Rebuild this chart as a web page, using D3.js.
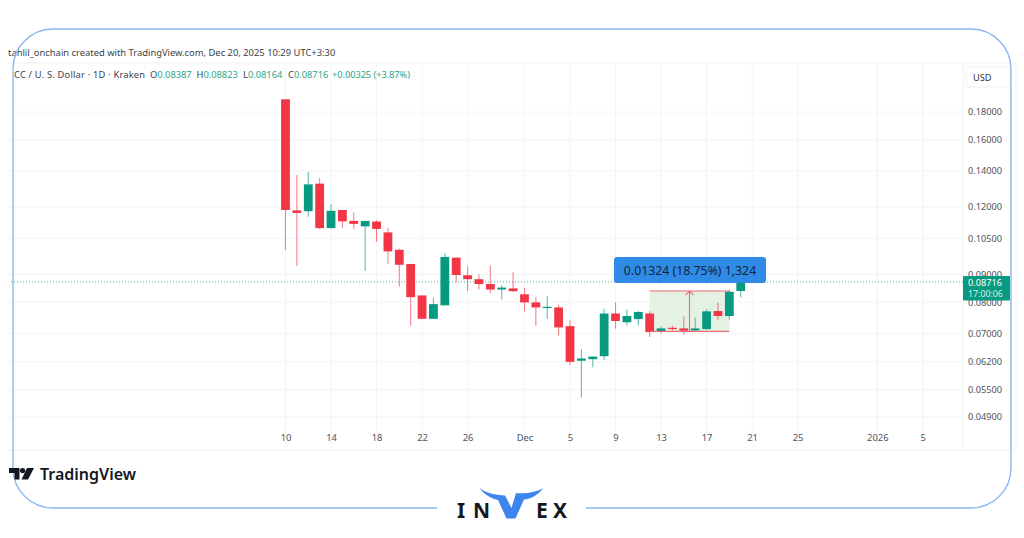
<!DOCTYPE html>
<html><head><meta charset="utf-8">
<script src="https://cdn.jsdelivr.net/npm/d3@7/dist/d3.min.js"></script>
<style>
html,body{margin:0;padding:0;background:#fff;width:1024px;height:538px;overflow:hidden}
svg{display:block}
text{font-family:"Noto Sans",sans-serif}
</style></head><body>
<svg id="c" width="1024" height="538"></svg>
<script>
const firstDay = "2025-11-10";
const opens  = [.1900,.1183,.1179,.1326,.1097,.1185,.1131,.1105,.1128,.1077,.1000,.0941,.0823,.0745,.0789,.0967,.0897,.0882,.0864,.0844,.0848,.0827,.0799,.0780,.0782,.0722,.0623,.0627,.0635,.0762,.0734,.0744,.0762,.0705,.0717,.0715,.0709,.0713,.0770,.0754,.08387];
const closes = [.1185,.1170,.1322,.1097,.1181,.1129,.1117,.1131,.1093,.0993,.0938,.0817,.0745,.0793,.0970,.0898,.0882,.0864,.0844,.0851,.0838,.0799,.0782,.0784,.0718,.0620,.0629,.0634,.0762,.0738,.0754,.0767,.0704,.0715,.0713,.0708,.0715,.0769,.0754,.0836,.08716];
const highs  = [.1900,.1376,.1393,.1360,.1216,.1185,.1172,.1131,.1134,.1099,.1004,.0941,.0823,.0815,.0985,.0968,.0932,.0900,.0934,.0860,.0909,.0851,.0818,.0821,.0790,.0740,.0655,.0634,.0778,.0799,.0775,.0771,.0769,.0722,.0723,.0752,.0749,.0776,.0799,.0843,.08823];
const lows   = [.0999,.0934,.1151,.1092,.1095,.1097,.1094,.0913,.1035,.0942,.0854,.0723,.0745,.0745,.0789,.0870,.0839,.0844,.0832,.0809,.0836,.0769,.0723,.0744,.0694,.0612,.0532,.0606,.0625,.0714,.0724,.0723,.0689,.0700,.0708,.0696,.0704,.0710,.0742,.0743,.08164];
const priceTicks = [0.18,0.16,0.14,0.12,0.105,0.09,0.08,0.07,0.062,0.055,0.049];
const dateTicks = ["2025-11-10","2025-11-14","2025-11-18","2025-11-22","2025-11-26","2025-12-01","2025-12-05","2025-12-09","2025-12-13","2025-12-17","2025-12-21","2025-12-25","2026-01-01","2026-01-05"];
const dateLabels = ["10","14","18","22","26","Dec","5","9","13","17","21","25","2026","5"];
const lastPrice = 0.08716;
const measureStart = "2025-12-12", measureEnd = "2025-12-19";
const measureLow = 0.07061, measureHigh = 0.08385;
const measureLabel = "0.01324 (18.75%) 1,324";
const creditLine = "tahlil_onchain created with TradingView.com, Dec 20, 2025 10:29 UTC+3:30";
const legendName = "CC / U. S. Dollar · 1D · Kraken";
const legendOHLC = [["O","0.08387"],["H","0.08823"],["L","0.08164"],["C","0.08716"]];
const legendChange = "+0.00325 (+3.87%)";

const RED="#F23645", GREEN="#089981", GRID="#f3f4f6", TXT="#4f535e";
const svg=d3.select("#c");
const parse=d3.utcParse("%Y-%m-%d");
const x=d3.scaleUtc().domain([parse("2025-11-10"),parse("2026-01-05")]).range([285.5,922.8]);
const y=d3.scaleLog().domain([0.18,0.049]).range([112,417]);
const plot={l:8,r:963,t:63,b:450};
const days=opens.map((_,i)=>d3.utcDay.offset(parse(firstDay),i));

svg.append("g").selectAll("line").data(priceTicks).join("line")
 .attr("x1",plot.l).attr("x2",plot.r).attr("y1",d=>y(d)).attr("y2",d=>y(d)).attr("stroke",GRID);
svg.append("g").selectAll("line").data(dateTicks).join("line")
 .attr("x1",d=>x(parse(d))).attr("x2",d=>x(parse(d))).attr("y1",plot.t).attr("y2",plot.b).attr("stroke",GRID);
svg.append("path").attr("d",`M${plot.l} ${plot.t}H${plot.r}V${plot.b}H${plot.l}`).attr("fill","none").attr("stroke","#eef0f3");
svg.append("path").attr("d",`M${plot.r} ${plot.t}H1016V${plot.b}H${plot.r}`).attr("fill","none").attr("stroke","#f2f3f5");

const mx0=x(parse(measureStart)), mx1=x(parse(measureEnd));
svg.append("rect").attr("x",mx0).attr("width",mx1-mx0).attr("y",y(measureHigh)).attr("height",y(measureLow)-y(measureHigh)).attr("fill","#e4f1e3");

svg.append("line").attr("x1",plot.l+3).attr("x2",plot.r).attr("y1",y(lastPrice)).attr("y2",y(lastPrice))
 .attr("stroke",GREEN).attr("stroke-width",1).attr("stroke-dasharray","1 2").attr("opacity",.75);

const col=i=>closes[i]>=opens[i]?GREEN:RED;
const cg=svg.append("g");
cg.selectAll("line").data(days).join("line")
 .attr("x1",d=>x(d)).attr("x2",d=>x(d))
 .attr("y1",(d,i)=>y(highs[i])).attr("y2",(d,i)=>y(lows[i]))
 .attr("stroke",(d,i)=>col(i)).attr("stroke-width",1.1).attr("opacity",.62);
cg.selectAll("rect").data(days).join("rect")
 .attr("x",d=>x(d)-4.4).attr("width",8.8)
 .attr("y",(d,i)=>y(Math.max(opens[i],closes[i])))
 .attr("height",(d,i)=>Math.max(1.2,y(Math.min(opens[i],closes[i]))-y(Math.max(opens[i],closes[i]))))
 .attr("fill",(d,i)=>col(i));

const mc="#ee6a75";
const mm=(mx0+mx1)/2;
[measureHigh,measureLow].forEach(v=>svg.append("line").attr("x1",mx0).attr("x2",mx1).attr("y1",y(v)).attr("y2",y(v)).attr("stroke",mc).attr("stroke-width",1.1));
svg.append("line").attr("x1",mm).attr("x2",mm).attr("y1",y(measureHigh)).attr("y2",y(measureLow)).attr("stroke",mc).attr("stroke-width",1.1);
svg.append("path").attr("d",`M${mm-4} ${y(measureHigh)+4}L${mm} ${y(measureHigh)}L${mm+4} ${y(measureHigh)+4}`).attr("fill","none").attr("stroke",mc).attr("stroke-width",1.1);
svg.append("rect").attr("x",614).attr("y",257).attr("width",152).attr("height",26).attr("rx",3).attr("fill","#2f8be6");
svg.append("text").attr("x",690).attr("y",274.5).attr("text-anchor","middle").attr("font-size",12.3).attr("fill","#12233a").text(measureLabel);

const ax=d3.axisBottom(x).tickValues(dateTicks.map(parse)).tickSize(0).tickPadding(0).tickFormat((d,i)=>dateLabels[i]);
const gx=svg.append("g").attr("transform","translate(0,434)").call(ax);
gx.select(".domain").remove();
gx.selectAll("text").attr("font-size",9.4).attr("fill",TXT).attr("font-family",'"Noto Sans",sans-serif');
const ay=d3.axisRight(y).tickValues(priceTicks).tickSize(0).tickPadding(0).tickFormat(d3.format(".5f"));
const gy=svg.append("g").attr("transform","translate(968,0)").call(ay);
gy.select(".domain").remove();
gy.selectAll("text").attr("font-size",9.2).attr("fill",TXT).attr("font-family",'"Noto Sans",sans-serif');

svg.append("rect").attr("x",963).attr("y",276).attr("width",47).attr("height",24.5).attr("rx",1).attr("fill",GREEN);
svg.append("text").attr("x",968).attr("y",286).attr("font-size",9.2).attr("fill","#fff").text(d3.format(".5f")(lastPrice));
svg.append("text").attr("x",968).attr("y",297).attr("font-size",8.8).attr("fill","#d8f0ea").text("17:00:06");

svg.append("rect").attr("x",966).attr("y",67).attr("width",44).attr("height",20).attr("rx",3).attr("fill","#fff").attr("stroke","#eef0f3");
svg.append("text").attr("x",973).attr("y",80.5).attr("font-size",9.2).attr("fill","#333").text("USD");

svg.append("text").attr("x",8).attr("y",56.2).attr("font-size",9.38).attr("fill","#3b3f49").text(creditLine);
const lg=svg.append("g").attr("font-size",9.3).attr("fill","#3b3f49");
lg.append("text").attr("x",14).attr("y",77.5).attr("textLength",131).text(legendName);
const legendX=[150,196.5,243,288];
legendOHLC.forEach(([k,v],i)=>{
  const t=lg.append("text").attr("x",legendX[i]).attr("y",77.5).text(k);
  t.append("tspan").attr("fill","#2aa58d").text(v);
});
lg.append("text").attr("x",332).attr("y",77.5).attr("fill","#2aa58d").attr("textLength",78).text(legendChange);

const fc="#8db8ee";
svg.append("path").attr("d","M437 508H53A40 40 0 0 1 13 468V69A40 40 0 0 1 53 29H971A40 40 0 0 1 1011 69V468A40 40 0 0 1 971 508H586")
 .attr("fill","none").attr("stroke",fc).attr("stroke-width",1.4);

const tv=svg.append("g").attr("fill","#131722");
tv.append("path").attr("d","M9 468H19.5V479.5H14.5V473H9Z");
tv.append("circle").attr("cx",22.6).attr("cy",470.6).attr("r",2.6);
tv.append("path").attr("d","M27 468H34L28 479.5H21.5Z");
svg.append("text").attr("x",40).attr("y",479.5).attr("font-family","Inter,sans-serif").attr("font-weight",600).attr("font-size",16).attr("fill","#131722").text("TradingView");

const ig=svg.append("g").attr("font-family","'Liberation Sans',sans-serif").attr("font-weight",700).attr("font-size",21).attr("fill","#15181d");
[["I",457],["N",473],["E",536],["X",553]].forEach(([t,px])=>ig.append("text").attr("x",px).attr("y",518).text(t));
svg.append("path").attr("fill","#3d86ee")
 .attr("d","M479.5 488C486 493 495 495 505 495.5L511.5 508L516 493C526 494 537 492 543.5 488C538 495 531 499 524 499.5L515.5 518.5H506.5L498 500C490 498 484 494 479.5 488Z");
</script>
</body></html>
